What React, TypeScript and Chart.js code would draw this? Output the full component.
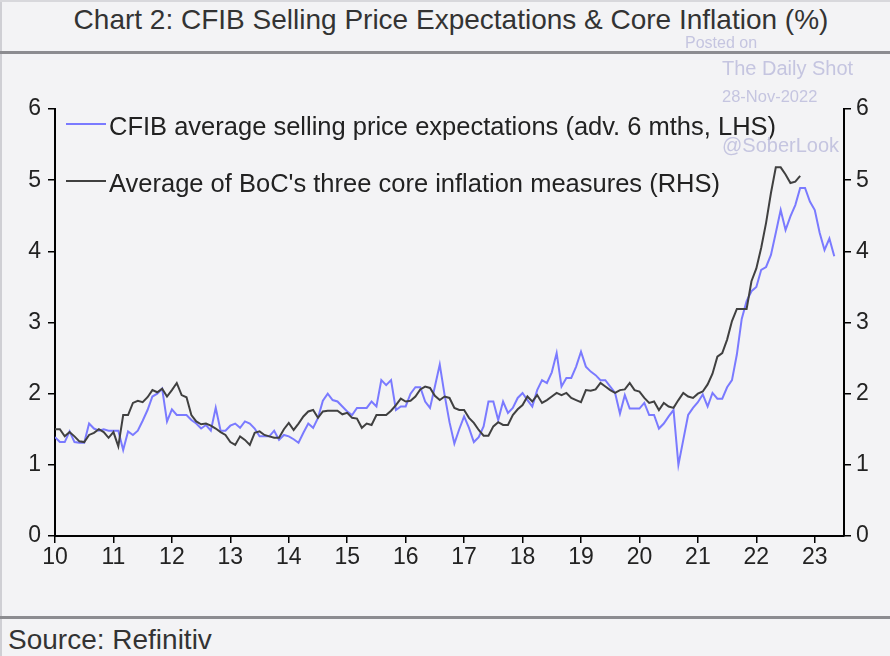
import React, { useEffect, useRef } from "react";
import { Chart, registerables } from "chart.js";

Chart.register(...registerables);

// Monthly data starting January 2010 (x axis in two-digit years)
const startYear = 10;
const xMin = 10;
const xMax = 23.5;

const cfibExpectations = [
  1.39, 1.32, 1.32, 1.47, 1.32, 1.31, 1.31, 1.58, 1.51, 1.48, 1.50, 1.48,
  1.48, 1.48, 1.21, 1.47, 1.42, 1.48, 1.62, 1.77, 1.96, 2.00, 2.07, 1.61,
  1.78, 1.70, 1.70, 1.70, 1.63, 1.58, 1.51, 1.56, 1.48, 1.80, 1.48, 1.48,
  1.55, 1.58, 1.52, 1.61, 1.58, 1.51, 1.40, 1.40, 1.40, 1.48, 1.35, 1.42,
  1.40, 1.36, 1.31, 1.45, 1.58, 1.52, 1.66, 1.90, 2.00, 1.91, 1.89, 1.82,
  1.75, 1.70, 1.80, 1.80, 1.80, 1.89, 1.82, 2.19, 2.12, 2.19, 1.77, 1.82,
  1.82, 2.00, 2.09, 2.09, 1.89, 1.80, 2.10, 2.41, 1.98, 1.60, 1.30, 1.50,
  1.68, 1.52, 1.32, 1.39, 1.54, 1.89, 1.89, 1.63, 1.89, 1.73, 1.80, 1.94,
  2.01, 1.91, 1.82, 2.05, 2.19, 2.15, 2.30, 2.57, 2.10, 2.22, 2.22, 2.38,
  2.59, 2.38, 2.31, 2.26, 2.19, 2.19, 2.10, 2.01, 1.72, 1.98, 1.79, 1.79,
  1.79, 1.87, 1.70, 1.70, 1.51, 1.58, 1.68, 1.77, 1.00, 1.35, 1.70, 1.80,
  1.88, 1.99, 1.82, 2.01, 1.93, 1.93, 2.09, 2.19, 2.55, 3.05, 3.30, 3.44,
  3.50, 3.74, 3.78, 3.95, 4.26, 4.58, 4.30, 4.49, 4.65, 4.89, 4.89, 4.70,
  4.58, 4.26, 4.02, 4.18, 3.93,
];

const coreInflation = [
  1.50, 1.50, 1.40, 1.46, 1.40, 1.33, 1.32, 1.42, 1.45, 1.50, 1.46, 1.38,
  1.46, 1.26, 1.70, 1.70, 1.87, 1.90, 1.88, 1.95, 2.05, 2.02, 2.07, 1.96,
  2.05, 2.15, 1.98, 1.95, 1.70, 1.61, 1.57, 1.58, 1.55, 1.51, 1.46, 1.42,
  1.32, 1.28, 1.40, 1.35, 1.28, 1.45, 1.47, 1.42, 1.40, 1.38, 1.38, 1.50,
  1.59, 1.49, 1.58, 1.68, 1.75, 1.77, 1.66, 1.75, 1.76, 1.76, 1.76, 1.71,
  1.73, 1.66, 1.65, 1.52, 1.58, 1.56, 1.70, 1.70, 1.70, 1.76, 1.84, 1.93,
  1.89, 1.90, 1.96, 2.06, 2.10, 2.08, 1.97, 1.91, 1.96, 1.94, 1.80, 1.77,
  1.77, 1.66, 1.59, 1.49, 1.41, 1.41, 1.54, 1.60, 1.56, 1.56, 1.70, 1.78,
  1.84, 1.96, 1.89, 1.98, 1.87, 1.91, 1.96, 2.01, 1.98, 2.01, 1.94, 1.91,
  1.88, 2.05, 2.04, 2.06, 2.15, 2.10, 2.05, 2.01, 2.05, 2.06, 2.15, 2.05,
  2.03, 1.94, 1.87, 1.89, 1.77, 1.87, 1.82, 1.80, 1.91, 2.01, 1.96, 1.94,
  2.00, 2.03, 2.13, 2.28, 2.52, 2.57, 2.76, 3.02, 3.19, 3.19, 3.19, 3.58,
  3.76, 4.05, 4.40, 4.82, 5.18, 5.18, 5.08, 4.96, 4.98, 5.06,
];

const seriesLabels = [
  "CFIB average selling price expectations (adv. 6 mths, LHS)",
  "Average of BoC's three core inflation measures (RHS)",
];
const seriesColors = ["#7a7aff", "#404040"];

const titleText = "Chart 2: CFIB Selling Price Expectations & Core Inflation (%)";
const sourceText = "Source: Refinitiv";

const FONT = "'Liberation Sans', Arial, sans-serif";

export default function App() {
  const canvasRef = useRef<HTMLCanvasElement | null>(null);

  useEffect(() => {
    if (!canvasRef.current) return;
    const toPoints = (arr: number[]) =>
      arr.map((v, i) => ({ x: startYear + i / 12, y: v }));

    const tickFont = { family: FONT, size: 23 };
    const gridOpts = {
      display: true,
      drawOnChartArea: false,
      drawTicks: true,
      tickLength: 7,
      color: "#000",
      lineWidth: 1.5,
    };
    const chart = new Chart(canvasRef.current, {
      type: "line",
      data: {
        datasets: [
          {
            label: seriesLabels[1],
            data: toPoints(coreInflation),
            borderColor: seriesColors[1],
            borderWidth: 2,
            pointRadius: 0,
            yAxisID: "y2",
            order: 0,
          },
          {
            label: seriesLabels[0],
            data: toPoints(cfibExpectations),
            borderColor: seriesColors[0],
            borderWidth: 2,
            pointRadius: 0,
            yAxisID: "y",
            order: 1,
          },
        ],
      },
      options: {
        animation: false,
        responsive: false,
        maintainAspectRatio: false,
        layout: { padding: { top: 109, bottom: 80, left: 0, right: 0 } },
        plugins: {
          legend: { display: false },
          title: { display: false },
          tooltip: { enabled: false },
        },
        scales: {
          x: {
            type: "linear",
            min: xMin,
            max: xMax,
            ticks: {
              stepSize: 1,
              includeBounds: false,
              color: "#222",
              font: tickFont,
              padding: 1,
              maxRotation: 0,
              callback: (v: any) => String(v),
            },
            grid: gridOpts,
            border: { display: true, color: "#000", width: 2 },
            afterFit: (s: any) => {
              s.height = 40;
            },
          },
          y: {
            position: "left",
            min: 0,
            max: 6,
            ticks: { stepSize: 1, color: "#222", font: tickFont, padding: 7 },
            grid: gridOpts,
            border: { display: true, color: "#000", width: 2 },
            afterFit: (s: any) => {
              s.width = 55;
            },
          },
          y2: {
            position: "right",
            min: 0,
            max: 6,
            ticks: { stepSize: 1, color: "#222", font: tickFont, padding: 5 },
            grid: gridOpts,
            border: { display: true, color: "#000", width: 2 },
            afterFit: (s: any) => {
              s.width = 46;
            },
          },
        },
      },
    });
    return () => chart.destroy();
  }, []);

  const abs = (o: React.CSSProperties): React.CSSProperties => ({
    position: "absolute",
    ...o,
  });

  const wm: React.CSSProperties = {
    position: "absolute",
    color: "#c5c5e0",
    fontFamily: FONT,
    whiteSpace: "nowrap",
    lineHeight: 1,
  };

  return (
    <div
      style={{
        position: "absolute",
        left: 0,
        top: 0,
        width: 890,
        height: 656,
        background: "#f3f3f5",
        overflow: "hidden",
        fontFamily: FONT,
      }}
    >
      <div style={abs({ left: 0, top: 0, width: 2, height: 656, background: "#cfcfd4" })} />
      <div style={abs({ left: 0, top: 0, width: 890, height: 2, background: "#d8d8dc" })} />
      <div
        style={abs({
          left: 0,
          top: 4,
          width: 902,
          textAlign: "center",
          fontSize: 28,
          color: "#333",
          lineHeight: "32px",
          whiteSpace: "nowrap",
        })}
      >
        {titleText}
      </div>
      <div style={abs({ left: 0, top: 51, width: 890, height: 3, background: "#8c8c90" })} />
      <div style={abs({ left: 0, top: 616, width: 890, height: 3, background: "#8c8c90" })} />
      <div
        style={abs({
          left: 8,
          top: 624,
          fontSize: 28,
          color: "#333",
          lineHeight: "32px",
          whiteSpace: "nowrap",
        })}
      >
        {sourceText}
      </div>

      <canvas
        ref={canvasRef}
        width={890}
        height={656}
        style={{ position: "absolute", left: 0, top: 0, width: 890, height: 656 }}
      />

      {/* legend */}
      {seriesLabels.map((lab, k) => (
        <div key={k}>
          <div
            style={abs({
              left: 66,
              top: (k === 0 ? 124 : 181) - 1,
              width: 40,
              height: 2,
              background: seriesColors[k],
            })}
          />
          <div
            style={abs({
              left: 109,
              top: (k === 0 ? 126 : 183) - 15,
              fontSize: 25.5,
              lineHeight: "30px",
              color: "#222",
              whiteSpace: "nowrap",
            })}
          >
            {lab}
          </div>
        </div>
      ))}

      {/* watermark */}
      <div style={{ ...wm, left: 685, top: 35, fontSize: 16 }}>Posted on</div>
      <div style={{ ...wm, left: 722, top: 58, fontSize: 20 }}>The Daily Shot</div>
      <div style={{ ...wm, left: 722, top: 88, fontSize: 16.5 }}>28-Nov-2022</div>
      <div style={{ ...wm, left: 722, top: 135, fontSize: 20 }}>@SoberLook</div>
    </div>
  );
}
